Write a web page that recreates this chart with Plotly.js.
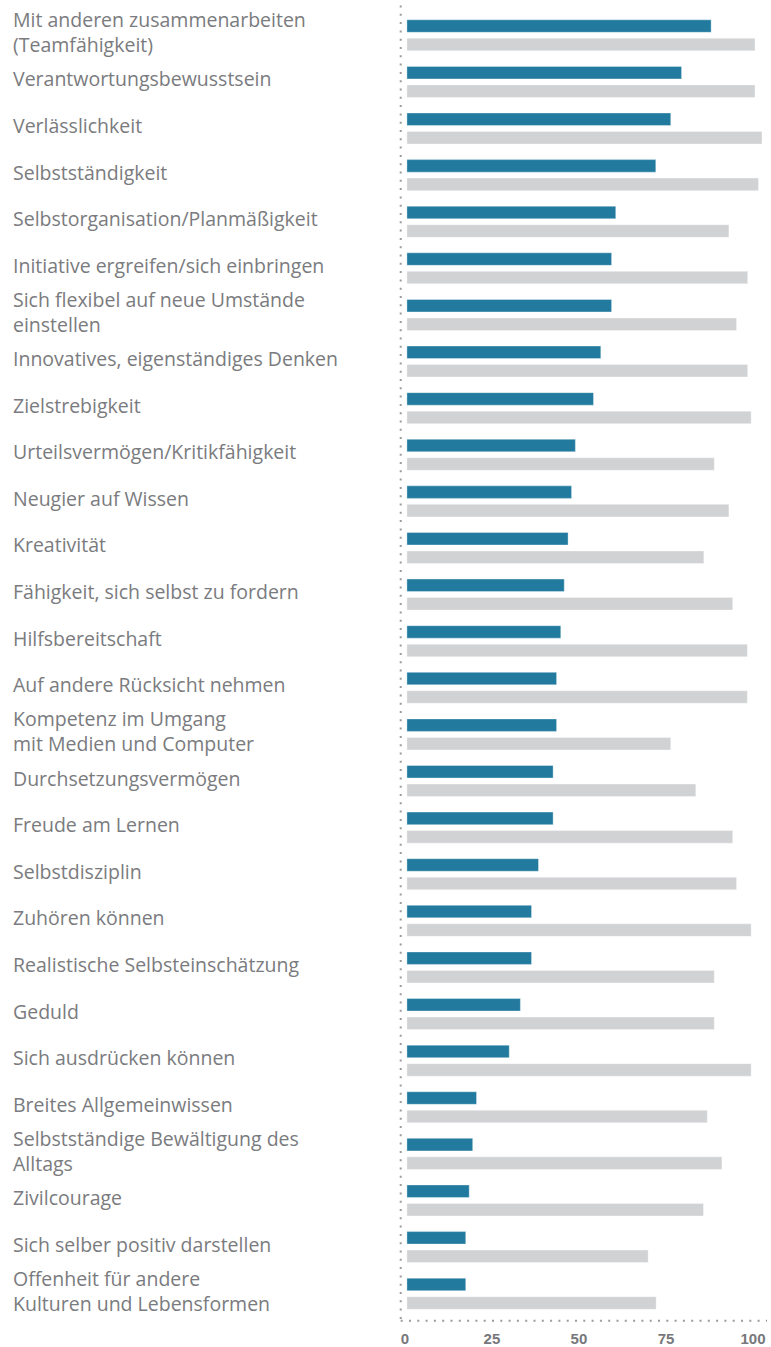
<!DOCTYPE html>
<html>
<head>
<meta charset="utf-8">
<script src="https://cdn.plot.ly/plotly-3.0.1.min.js"></script>
<style>
  html, body { margin: 0; padding: 0; background: #ffffff; }
  #chart { width: 771px; height: 1347px; }
</style>
</head>
<body>
<div id="chart"></div>
<script>
// Category labels (top to bottom)
const categories = [
  "Mit anderen zusammenarbeiten<br>(Teamfähigkeit)",
  "Verantwortungsbewusstsein",
  "Verlässlichkeit",
  "Selbstständigkeit",
  "Selbstorganisation/Planmäßigkeit",
  "Initiative ergreifen/sich einbringen",
  "Sich flexibel auf neue Umstände<br>einstellen",
  "Innovatives, eigenständiges Denken",
  "Zielstrebigkeit",
  "Urteilsvermögen/Kritikfähigkeit",
  "Neugier auf Wissen",
  "Kreativität",
  "Fähigkeit, sich selbst zu fordern",
  "Hilfsbereitschaft",
  "Auf andere Rücksicht nehmen",
  "Kompetenz im Umgang<br>mit Medien und Computer",
  "Durchsetzungsvermögen",
  "Freude am Lernen",
  "Selbstdisziplin",
  "Zuhören können",
  "Realistische Selbsteinschätzung",
  "Geduld",
  "Sich ausdrücken können",
  "Breites Allgemeinwissen",
  "Selbstständige Bewältigung des<br>Alltags",
  "Zivilcourage",
  "Sich selber positiv darstellen",
  "Offenheit für andere<br>Kulturen und Lebensformen"
];

// Series 1 (teal)
const seriesA = [87.4, 78.9, 75.8, 71.5, 60.0, 58.8, 58.8, 55.7, 53.6, 48.4,
                 47.3, 46.3, 45.2, 44.2, 43.0, 43.0, 42.0, 42.0, 37.8, 35.8,
                 35.8, 32.6, 29.4, 20.0, 18.9, 17.9, 16.9, 16.9];

// Series 2 (grey)
const seriesB = [100.0, 100.0, 102.0, 101.0, 92.5, 97.9, 94.7, 97.9, 98.9, 88.3,
                 92.5, 85.3, 93.6, 97.8, 97.8, 75.8, 83.0, 93.6, 94.7, 98.9,
                 88.3, 88.3, 98.9, 86.3, 90.5, 85.2, 69.3, 71.6];

// Axis ticks
const tickValues = [0, 25, 50, 75, 100];
const tickLabels = ["0", "25", "50", "75", "100"];

const TEAL = "#227b9f";
const GREY = "#d1d2d4";
const TEXT = "#7a7b7e";

const ML = 401, MR = 8, MT = 12, MB = 30, W = 771, H = 1347;
const plotW = W - ML - MR, plotH = H - MT - MB;

const traces = [
  {
    type: "bar", orientation: "h",
    y: categories, x: seriesA,
    marker: { color: TEAL, line: { color: "rgba(255,255,255,0.35)", width: 1 } },
    hoverinfo: "x"
  },
  {
    type: "bar", orientation: "h",
    y: categories, x: seriesB,
    marker: { color: GREY, line: { color: "rgba(255,255,255,0.35)", width: 1 } },
    hoverinfo: "x"
  }
];

const annotations = categories.map(c => ({
  xref: "paper", yref: "y",
  x: (11 - ML) / plotW, y: c,
  xanchor: "left", yanchor: "middle", align: "left",
  yshift: 3,
  text: c, showarrow: false,
  font: { family: "Open Sans, sans-serif", size: 19.5, color: TEXT, weight: 400 }
}));

const pxToPaperY = py => (H - MB - py) / plotH;
const pxToPaperX = px => (px - ML) / plotW;

const dotLine = { color: "#9b9b9b", width: 2, dash: "2px,6.3px" };
const shapes = [
  { type: "line", xref: "paper", yref: "paper",
    x0: pxToPaperX(400.7), x1: pxToPaperX(400.7),
    y0: pxToPaperY(5.5), y1: pxToPaperY(1320.7), line: dotLine },
  { type: "line", xref: "paper", yref: "paper",
    x0: pxToPaperX(400.7), x1: pxToPaperX(767),
    y0: pxToPaperY(1320.7), y1: pxToPaperY(1320.7), line: dotLine }
];

const layout = {
  width: W, height: H,
  margin: { l: ML, r: MR, t: MT, b: MB, pad: 0 },
  paper_bgcolor: "#ffffff", plot_bgcolor: "#ffffff",
  showlegend: false,
  barmode: "group",
  bargap: 0.206,
  bargroupgap: 0.324,
  xaxis: {
    range: [-1.7, 102.3],
    tickmode: "array", tickvals: tickValues, ticktext: tickLabels,
    showgrid: false, zeroline: false, showline: false,
    ticks: "", ticklabelstandoff: 11, ticklabelshift: -2,
    tickfont: { family: "Liberation Sans, Arial, sans-serif", size: 15, color: "#77787b", weight: "bold" },
    fixedrange: true
  },
  yaxis: {
    type: "category",
    autorange: false,
    range: [categories.length - 0.5, -0.5],
    showticklabels: false, showgrid: false, zeroline: false, showline: false, ticks: "",
    fixedrange: true
  },
  annotations: annotations,
  shapes: shapes
};

Plotly.newPlot("chart", traces, layout, { displayModeBar: false, staticPlot: true });
</script>
</body>
</html>
